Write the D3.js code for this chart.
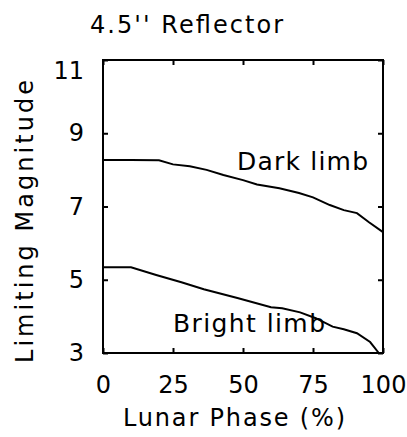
<!DOCTYPE html>
<html>
<head>
<meta charset="utf-8">
<script src="https://cdn.jsdelivr.net/npm/d3@7"></script>
<style>
    body { margin: 0; background: #fff; }
    text { font-family: "DejaVu Sans", sans-serif; fill: #000; }
</style>
</head>
<body>
<svg id="chart" width="407" height="437"></svg>
<script>
// lunar phase (%) and limiting magnitude
let darkPhase = [0, 10, 20, 25, 31, 37, 43, 50, 55, 63, 70, 75, 81, 86, 90.7, 95, 100];
let darkMag = [8.27, 8.27, 8.26, 8.15, 8.1, 8.0, 7.86, 7.72, 7.6, 7.5, 7.37, 7.25, 7.04, 6.9, 6.82, 6.57, 6.3];

let brightPhase = [0, 10, 19, 28, 36, 48, 60, 64, 70.4, 76, 82, 86, 90.7, 95.4, 98.5];
let brightMag = [5.34, 5.34, 5.13, 4.93, 4.74, 4.5, 4.25, 4.22, 4.11, 3.95, 3.72, 3.65, 3.54, 3.3, 3.0];

let xTicks = [0, 25, 50, 75, 100];
let yTicks = [3, 5, 7, 9, 11];

let svg = d3.select("#chart");

let mLeft = 103, mRight = 383, mTop = 60, mBottom = 353;

let x = d3.scaleLinear().domain([0, 100]).range([mLeft, mRight]);
let y = d3.scaleLinear().domain([3, 11]).range([mBottom, mTop]);

// frame
svg.append("rect")
    .attr("x", mLeft).attr("y", mTop)
    .attr("width", mRight - mLeft).attr("height", mBottom - mTop)
    .attr("fill", "none").attr("stroke", "#000").attr("stroke-width", 2);

// inside ticks on all four sides
let tickLen = 5;
let gx = svg.append("g").attr("transform", "translate(0," + mBottom + ")")
    .call(d3.axisBottom(x).tickValues(xTicks).tickSizeInner(-tickLen).tickSizeOuter(0).tickPadding(23));

let gy = svg.append("g").attr("transform", "translate(" + mLeft + ",0)")
    .call(d3.axisLeft(y).tickValues(yTicks).tickSizeInner(-tickLen).tickSizeOuter(0).tickPadding(19));

let gt = svg.append("g").attr("transform", "translate(0," + mTop + ")")
    .call(d3.axisTop(x).tickValues(xTicks).tickSizeInner(-tickLen).tickSizeOuter(0).tickFormat(""));
let gr = svg.append("g").attr("transform", "translate(" + mRight + ",0)")
    .call(d3.axisRight(y).tickValues(yTicks).tickSizeInner(-tickLen).tickSizeOuter(0).tickFormat(""));

[gx, gy, gt, gr].forEach(g => {
    g.select(".domain").remove();
    g.selectAll(".tick line").attr("stroke", "#000").attr("stroke-width", 2);
});

gx.selectAll(".tick text").style("font-size", "24px").attr("font-family", null);
gy.selectAll(".tick text").style("font-size", "24px").attr("font-family", null);

// the top label sits below its tick, inside the frame height
gy.selectAll(".tick text").filter(d => d === 11).attr("dy", "0.75em");

// curves
let line = d3.line()
    .x(d => x(d[0]))
    .y(d => y(d[1]));

let darkData = darkPhase.map((p, i) => [p, darkMag[i]]);
let brightData = brightPhase.map((p, i) => [p, brightMag[i]]);

svg.append("path").datum(darkData)
    .attr("d", line)
    .attr("fill", "none").attr("stroke", "#000").attr("stroke-width", 2);

svg.append("path").datum(brightData)
    .attr("d", line)
    .attr("fill", "none").attr("stroke", "#000").attr("stroke-width", 2);

// curve labels
svg.append("text")
    .attr("x", 237).attr("y", 170)
    .attr("textLength", 131)
    .style("font-size", "25px")
    .text("Dark limb");

svg.append("text")
    .attr("x", 173).attr("y", 332)
    .attr("textLength", 152)
    .style("font-size", "25px")
    .text("Bright limb");

// title and axis titles
svg.append("text")
    .attr("x", 90).attr("y", 33)
    .attr("textLength", 193)
    .style("font-size", "24px")
    .text("4.5'' Reflector");

svg.append("text")
    .attr("x", 123).attr("y", 426)
    .attr("textLength", 222)
    .style("font-size", "24px")
    .text("Lunar Phase (%)");

svg.append("text")
    .attr("transform", "translate(33,363) rotate(-90)")
    .attr("textLength", 283)
    .style("font-size", "24px")
    .text("Limiting Magnitude");
</script>
</body>
</html>
